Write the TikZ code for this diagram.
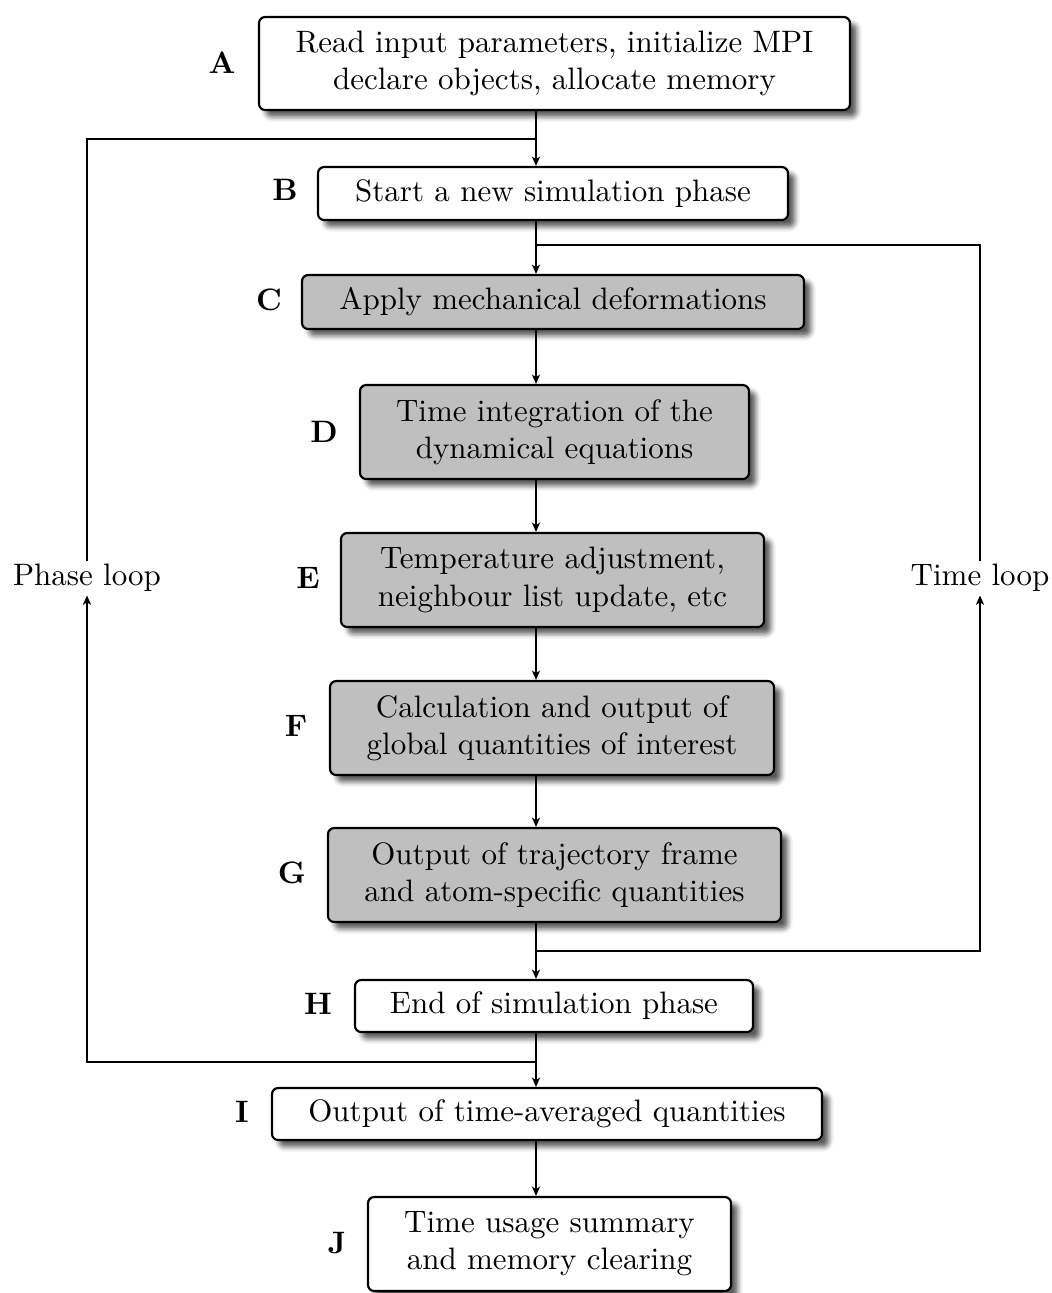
\documentclass[tikz,border=0pt]{standalone}
\usetikzlibrary{shadows.blur,arrows.meta}
\newcommand\pxu{0.3226pt}
\begin{document}
\begin{tikzpicture}[x=0.3226pt,y=-0.3226pt,
  box/.style={draw, line width=0.7pt, rounded corners=2pt, fill=white, align=center, inner sep=2pt,
    blur shadow={shadow xshift=2.2pt, shadow yshift=-2.2pt, shadow blur radius=1.6pt, shadow opacity=65}},
  gbox/.style={box, fill=black!25},
  lab/.style={font=\bfseries, inner sep=0pt},
  loop/.style={inner sep=1pt},
  conn/.style={line width=0.6pt},
  arr/.style={conn, -{Stealth[length=3pt,width=2.6pt,inset=0.8pt]}}]
\useasboundingbox (0,0) rectangle (1052,1293);
\coordinate (col) at (536,0);
% boxes
\node[box, minimum width=591*\pxu, minimum height=93*\pxu] (A) at (554.5,63.5) {Read input parameters, initialize MPI\\declare objects, allocate memory};
\node[box, minimum width=470*\pxu, minimum height=53*\pxu] (B) at (553,193.5) {Start a new simulation phase};
\node[gbox, minimum width=502*\pxu, minimum height=54*\pxu] (C) at (553,302) {Apply mechanical deformations};
\node[gbox, minimum width=389*\pxu, minimum height=94*\pxu] (D) at (554.5,432) {Time integration of the\\dynamical equations};
\node[gbox, minimum width=423*\pxu, minimum height=94*\pxu] (E) at (552.5,580) {Temperature adjustment,\\neighbour list update, etc};
\node[gbox, minimum width=444*\pxu, minimum height=94*\pxu] (F) at (552,728) {Calculation and output of\\global quantities of interest};
\node[gbox, minimum width=453*\pxu, minimum height=94*\pxu] (G) at (554.5,875) {Output of trajectory frame\\and atom-specific quantities};
\node[box, minimum width=398*\pxu, minimum height=52*\pxu] (H) at (554,1006) {End of simulation phase};
\node[box, minimum width=550*\pxu, minimum height=52*\pxu] (I) at (547,1114) {Output of time-averaged quantities};
\node[box, minimum width=363*\pxu, minimum height=94*\pxu] (J) at (549.5,1244) {Time usage summary\\and memory clearing};
% letter labels
\node[lab] (lA) at (222,63) {A};
\node[lab] (lB) at (285,190) {B};
\node[lab] (lC) at (269,300) {C};
\node[lab] (lD) at (324,432) {D};
\node[lab] (lE) at (308,578) {E};
\node[lab] (lF) at (296,726) {F};
\node[lab] (lG) at (292,873) {G};
\node[lab] (lH) at (318,1004) {H};
\node[lab] (lI) at (242,1112) {I};
\node[lab] (lJ) at (337,1243) {J};
% loop labels
\node[loop] (PL) at (87,578) {Phase loop};
\node[loop] (TL) at (980,578) {Time loop};
% junctions
\coordinate (jA) at (536,139);
\coordinate (jB) at (536,245);
\coordinate (jG) at (536,951);
\coordinate (jH) at (536,1062);
% trunk arrows
\draw[arr] (A.south -| col) -- (B.north -| col);
\draw[arr] (B.south -| col) -- (C.north -| col);
\draw[arr] (C.south -| col) -- (D.north -| col);
\draw[arr] (D.south -| col) -- (E.north -| col);
\draw[arr] (E.south -| col) -- (F.north -| col);
\draw[arr] (F.south -| col) -- (G.north -| col);
\draw[arr] (G.south -| col) -- (H.north -| col);
\draw[arr] (H.south -| col) -- (I.north -| col);
\draw[arr] (I.south -| col) -- (J.north -| col);
% phase loop
\draw[arr] (jH) -| (PL.south);
\draw[conn] (PL.north) |- (jA);
% time loop
\draw[arr] (jG) -| (TL.south);
\draw[conn] (TL.north) |- (jB);
\end{tikzpicture}
\end{document}
